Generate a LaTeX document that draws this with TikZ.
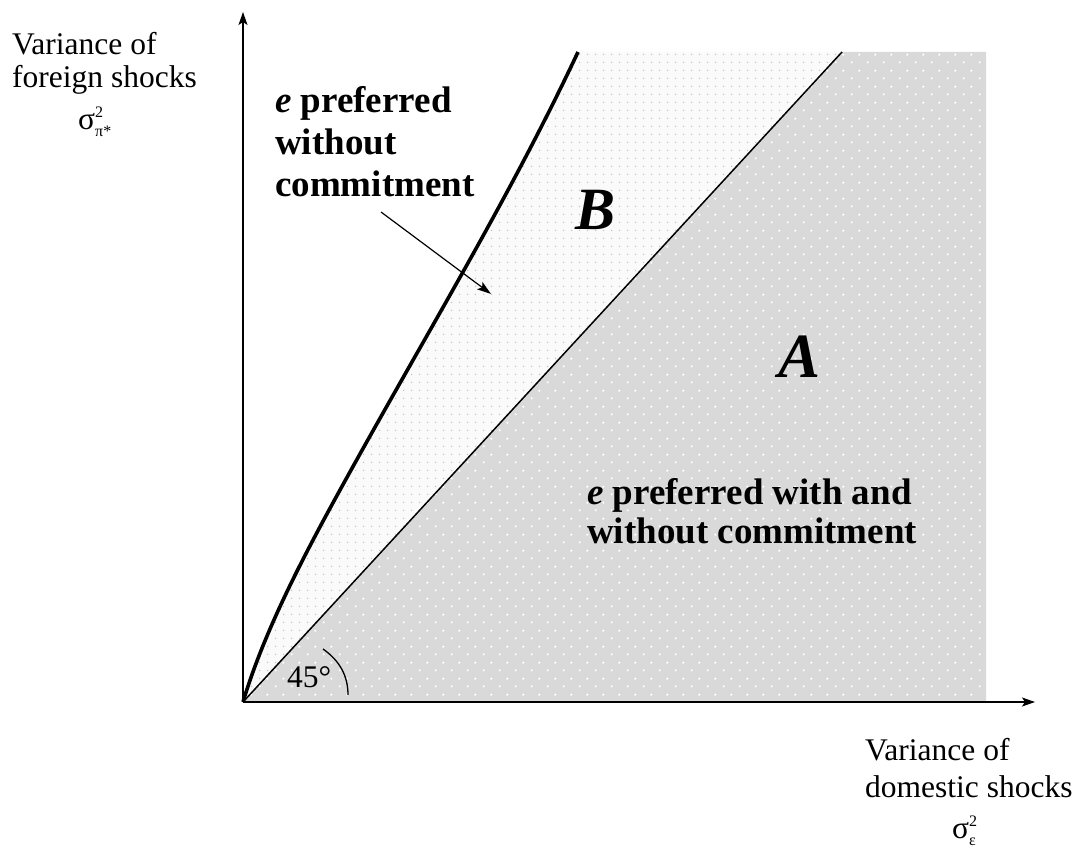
\documentclass[tikz,border=0pt]{standalone}
\usepackage{fontspec}
\setmainfont{Liberation Serif}
\usetikzlibrary{arrows.meta,patterns.meta}

\tikzdeclarepattern{
  name=Bdots, type=uncolored,
  bounding box={(0pt,0pt) and (8pt,8pt)},
  tile size={(8pt,8pt)},
  code={\fill (4pt,4pt) circle (0.9pt);}
}
\tikzdeclarepattern{
  name=Adots, type=uncolored,
  bounding box={(0pt,0pt) and (16pt,16pt)},
  tile size={(16pt,16pt)},
  code={\fill (4pt,4pt) circle (1.2pt); \fill (12pt,12pt) circle (1.2pt);}
}

\newcommand{\sigsym}[2]{σ\rlap{\raisebox{12pt}{\fontsize{16}{16}\selectfont #1}}\raisebox{-7pt}{\fontsize{16}{16}\selectfont #2}}
\def\curvepath{(O) .. controls (264,632) and (301.5,560) .. (340,490) .. controls (422.5,340) and (507.5,202) .. (Ctop)}

\begin{document}
\begin{tikzpicture}[x=1pt,y=-1pt,
  axisline/.style={line width=1.6pt,-{Stealth[length=13pt,width=9pt,inset=3pt]}},
  lbl/.style={inner sep=0pt,anchor=base west,font=\fontsize{31.5}{34}\selectfont},
  bold/.style={inner sep=0pt,anchor=base west,font=\fontsize{37}{42}\selectfont\bfseries},
  region/.style={inner sep=0pt,anchor=base west,font=\bfseries\itshape},
  pointer/.style={line width=1.2pt,-{Stealth[length=14pt,width=9pt,inset=3pt]}}]
\useasboundingbox (0,0) rectangle (1077,850);

\coordinate (O) at (243,702);
\coordinate (Xend) at (1035,702);
\coordinate (Yend) at (243,12);
\coordinate (Dtop) at (842,52);
\coordinate (Ctop) at (578,52);
\coordinate (TR) at (986,52);
\coordinate (BR) at (986,702);
\coordinate (Pstart) at (381,212);
\coordinate (Pend) at (491,294);

% region A
\fill[gray!30] (O) -- (Dtop) -- (TR) -- (BR) -- cycle;
\fill[pattern=Adots, pattern color=white] (O) -- (Dtop) -- (TR) -- (BR) -- cycle;
% region B
\fill[gray!4] \curvepath -- (Dtop) -- cycle;
\fill[pattern=Bdots, pattern color=gray!45] \curvepath -- (Dtop) -- cycle;

% 45 degree line and curve
\draw[line width=1.5pt] (O) -- (Dtop);
\draw[line width=3.6pt] \curvepath;

% axes
\draw[axisline] (O) -- (Xend);
\draw[axisline] (O) -- (Yend);

% angle mark
\draw[line width=1.3pt] (323,649) .. controls (340,661) and (348,676) .. (348,695);
\node[lbl] (ang) at (287,687) {45°};

% region letters
\node[region,font=\fontsize{60}{60}\selectfont\bfseries\itshape] (B) at (575,230) {B};
\node[region,font=\fontsize{63}{63}\selectfont\bfseries\itshape] (A) at (778,378) {A};

% texts
\node[bold] (t1) at (275,113) {\textit{e} preferred};
\node[bold] (t2) at (275,155) {without};
\node[bold] (t3) at (275,197) {commitment};
\node[bold] (u1) at (587,504) {\textit{e} preferred with and};
\node[bold] (u2) at (587,543) {without commitment};

\draw[pointer] (Pstart) -- (Pend);

% axis labels
\node[lbl] (yl1) at (12,55) {Variance of};
\node[lbl] (yl2) at (12,88) {foreign shocks};
\node[lbl] (yl3) at (78,130) {\sigsym{2}{π*}};
\node[lbl] (xl1) at (865,760) {Variance of};
\node[lbl] (xl2) at (865,797) {domestic shocks};
\node[lbl] (xl3) at (952,838) {\sigsym{2}{ε}};
\end{tikzpicture}
\end{document}
